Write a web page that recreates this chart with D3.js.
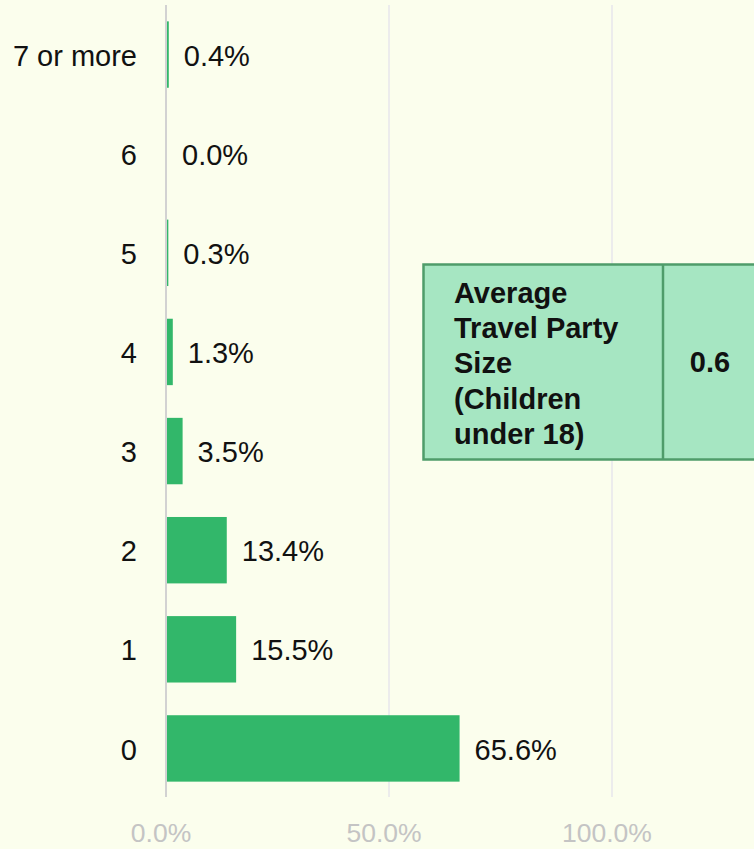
<!DOCTYPE html>
<html><head><meta charset="utf-8">
<script src="https://cdn.jsdelivr.net/npm/d3@7"></script>
<style>
html,body{margin:0;padding:0;background:#fbfeed;}
svg{display:block;}
</style></head>
<body>
<script>
const categories = ["7 or more","6","5","4","3","2","1","0"];
const values = [0.4, 0.0, 0.3, 1.3, 3.5, 13.4, 15.5, 65.6];
const xTicks = [0, 50, 100];
const boxLabelLines = ["Average","Travel Party","Size","(Children","under 18)"];
const boxValue = "0.6";

const W = 754, H = 849;
const svg = d3.select("body").append("svg").attr("width", W).attr("height", H);
svg.append("rect").attr("width", W).attr("height", H).attr("fill", "#fbfeed");

const x = d3.scaleLinear().domain([0, 100]).range([166, 612]);
const y = d3.scaleBand().domain(categories).range([5, 798]).paddingInner(0.33).paddingOuter(0.165);
const font = "'Liberation Sans', Arial, sans-serif";

// gridlines
const grid = svg.append("g");
grid.selectAll("line").data(xTicks).join("line")
  .attr("x1", d => x(d)).attr("x2", d => x(d))
  .attr("y1", 5).attr("y2", 797)
  .attr("stroke", d => d === 0 ? "#d2d2d2" : "#ececec")
  .attr("stroke-width", 2);

// axis labels
svg.append("g").selectAll("text").data(xTicks).join("text")
  .attr("x", d => x(d) - 5).attr("y", 842)
  .attr("text-anchor", "middle")
  .attr("font-family", font).attr("font-size", 26.5)
  .attr("fill", "#c4c4c4")
  .text(d => d3.format(".1f")(d) + "%");

// bars
svg.append("g").selectAll("rect").data(values).join("rect")
  .attr("x", x(0) + 1)
  .attr("y", (d, i) => y(categories[i]))
  .attr("width", d => Math.max(0, x(d) - x(0)))
  .attr("height", y.bandwidth())
  .attr("fill", "#32b76a");

// category labels
svg.append("g").selectAll("text").data(categories).join("text")
  .attr("x", 137)
  .attr("y", d => y(d) + y.bandwidth() / 2 + 1)
  .attr("dy", "0.35em")
  .attr("text-anchor", "end")
  .attr("font-family", font).attr("font-size", 29)
  .attr("fill", "#111")
  .text(d => d);

// value labels
svg.append("g").selectAll("text").data(values).join("text")
  .attr("x", d => x(d) + 16)
  .attr("y", (d, i) => y(categories[i]) + y.bandwidth() / 2 + 1)
  .attr("dy", "0.35em")
  .attr("font-family", font).attr("font-size", 29)
  .attr("fill", "#111")
  .text(d => d3.format(".1f")(d) + "%");

// info box
const box = svg.append("g");
box.append("rect").attr("x", 423.5).attr("y", 264.5).attr("width", 340).attr("height", 195)
  .attr("fill", "#a6e6c2").attr("stroke", "#4f9c6a").attr("stroke-width", 2.5);
box.append("line").attr("x1", 663).attr("x2", 663).attr("y1", 264.5).attr("y2", 459.5)
  .attr("stroke", "#4f9c6a").attr("stroke-width", 2.5);
box.append("text")
  .attr("font-family", font).attr("font-size", 29).attr("font-weight", "bold")
  .attr("fill", "#111")
  .selectAll("tspan").data(boxLabelLines).join("tspan")
  .attr("x", 454).attr("y", (d, i) => 303 + i * 35.2)
  .text(d => d);
box.append("text")
  .attr("x", 710).attr("y", 372)
  .attr("text-anchor", "middle")
  .attr("font-family", font).attr("font-size", 29).attr("font-weight", "bold")
  .attr("fill", "#111")
  .text(boxValue);
</script>
</body></html>
